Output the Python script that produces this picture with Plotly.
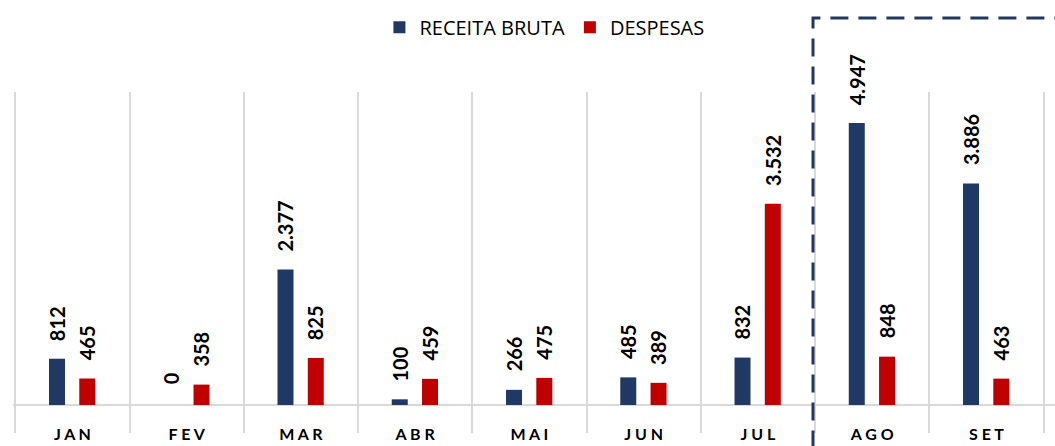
import plotly.graph_objects as go

months = ["JAN", "FEV", "MAR", "ABR", "MAI", "JUN", "JUL", "AGO", "SET"]
month_labels = ["J A N", "F E V", "M A R", "A B R", "M A I", "J U N", "J U L", "A G O", "S E T"]
receita = [812, 0, 2377, 100, 266, 485, 832, 4947, 3886]
despesas = [465, 358, 825, 459, 475, 389, 3532, 848, 463]

NAVY = "#203864"
RED = "#c00000"
BAR_W = 0.14
OFF_R = -0.205
OFF_D = 0.06


def fmt(v):
    return f"{v:,}".replace(",", ".")


label_font = dict(family="Lato", size=20, color="#000000", weight="bold")

fig = go.Figure()
fig.add_trace(go.Bar(
    name="RECEITA BRUTA", x=months, y=receita,
    marker=dict(color=NAVY, line=dict(width=0)),
    width=BAR_W, offset=OFF_R,
))
fig.add_trace(go.Bar(
    name="DESPESAS", x=months, y=despesas,
    marker=dict(color=RED, line=dict(width=0)),
    width=BAR_W, offset=OFF_D,
))

annotations = []
for series, off in ((receita, OFF_R), (despesas, OFF_D)):
    for i, v in enumerate(series):
        annotations.append(dict(
            x=i + off + BAR_W / 2, y=v, xref="x", yref="y",
            text=fmt(v), textangle=-90, showarrow=False,
            xanchor="center", yanchor="bottom", yshift=16 if v > 0 else 19,
            font=label_font,
        ))

fig.update_layout(
    width=1055, height=446,
    margin=dict(l=13, r=0, t=92, b=13),
    plot_bgcolor="white", paper_bgcolor="white",
    barmode="overlay",
    annotations=annotations,
    legend=dict(
        orientation="h", x=0.51, xanchor="center", y=1.19, yanchor="middle",
        font=dict(family="Open Sans", size=20, color="#000000"),
        itemwidth=30, tracegroupgap=0, bgcolor="rgba(0,0,0,0)",
    ),
    xaxis=dict(
        type="category", range=[-0.52, 8.6],
        tickmode="array", tickvals=months, ticktext=month_labels,
        tickson="boundaries", ticks="", showgrid=True,
        gridcolor="#d9d9d9", gridwidth=2,
        showline=False, zeroline=False,
        tickfont=dict(family="Lato", size=16, color="#000000", weight="bold"),
        ticklabelstandoff=-10,
    ),
    yaxis=dict(
        range=[-491, 5491], showgrid=False, showticklabels=False,
        zeroline=True, zerolinecolor="#d9d9d9", zerolinewidth=2,
        showline=False,
    ),
    shapes=[dict(
        type="rect", xref="paper", yref="paper",
        x0=(813 - 13) / 1042, x1=1.05, y0=-0.2, y1=(433 - 18) / 341,
        line=dict(color=NAVY, width=3, dash="18px,10px"),
        fillcolor="rgba(0,0,0,0)", layer="above",
    )],
)

fig.write_html("out.html")
